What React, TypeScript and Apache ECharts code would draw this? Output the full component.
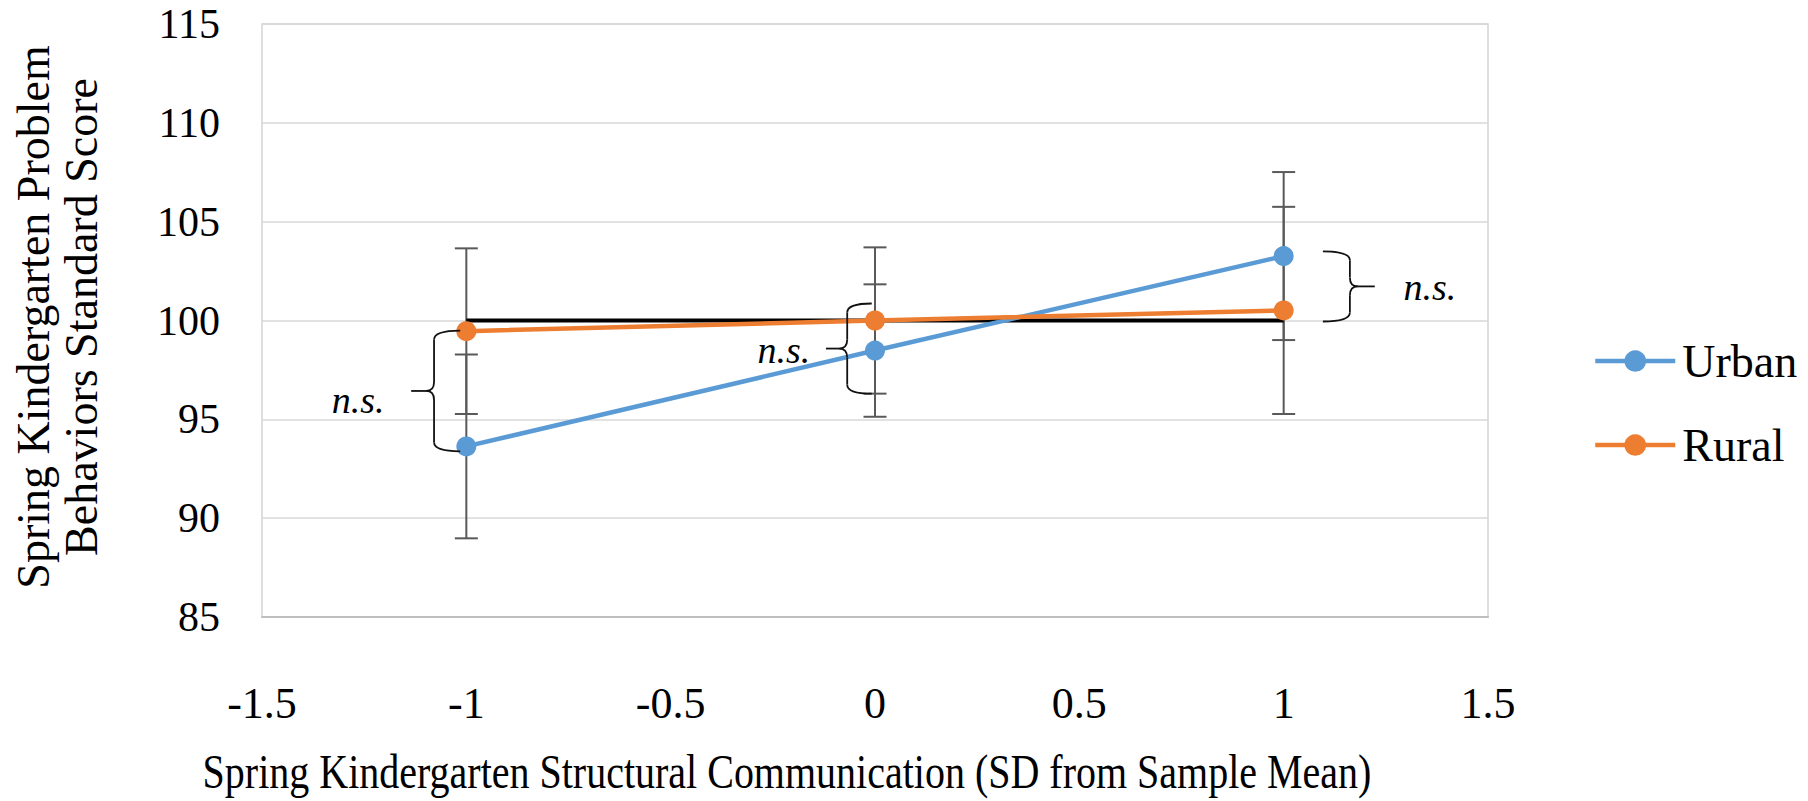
import React, { useEffect, useRef } from "react";
import * as echarts from "echarts";

// Data
const xValues = [-1, 0, 1];
const urbanMean = [93.63, 98.48, 103.26];
const urbanErr = [4.65, 3.35, 4.25];
const ruralMean = [99.46, 100.0, 100.51];
const ruralErr = [4.19, 3.7, 5.24];
const referenceX = [-1, 1];
const referenceY = [100, 100];

const xTicks = { min: -1.5, max: 1.5, interval: 0.5 };
const yTicks = { min: 85, max: 115, interval: 5 };

// Annotation braces ("n.s.") in data units
const braceSpineX = [-1.079, -0.068, 1.162];
const braceEndX = [-1.015, -0.008, 1.096];
const braceTipX = [-1.135, -0.12, 1.223];
const braceTop = [99.49, 100.86, 103.5];
const braceBottom = [93.38, 96.3, 99.95];
const nsLabelX = [-1.265, -0.223, 1.358];
const nsLabelY = [96.0, 98.53, 101.67];
const nsText = ["n.s.", "n.s.", "n.s."];

const xTitle = "Spring Kindergarten Structural Communication (SD from Sample Mean)";
const yTitle = "Spring Kindergarten Problem\nBehaviors Standard Score";

const SERIF = '"Liberation Serif", "Times New Roman", serif';
const BLUE = "#5B9BD5";
const ORANGE = "#ED7D31";

export default function App() {
  const ref = useRef<HTMLDivElement>(null);

  useEffect(() => {
    if (!ref.current) return;
    const chart = echarts.init(ref.current, undefined, { renderer: "svg" });

    const errData = (means: number[], errs: number[]) =>
      xValues.map((x, i) => [x, means[i] - errs[i], means[i] + errs[i]]);

    const errorRender = (params: any, api: any) => {
      const x = api.value(0);
      const lo = api.coord([x, api.value(1)]);
      const hi = api.coord([x, api.value(2)]);
      const hw = 11.5;
      const st = { stroke: "#595959", lineWidth: 2 };
      return {
        type: "group",
        children: [
          { type: "line", shape: { x1: lo[0], y1: lo[1], x2: hi[0], y2: hi[1] }, style: st },
          { type: "line", shape: { x1: lo[0] - hw, y1: lo[1], x2: lo[0] + hw, y2: lo[1] }, style: st },
          { type: "line", shape: { x1: hi[0] - hw, y1: hi[1], x2: hi[0] + hw, y2: hi[1] }, style: st },
        ],
      };
    };

    const braceData = braceSpineX.map((s, i) => [
      s,
      braceEndX[i],
      braceTipX[i],
      braceTop[i],
      braceBottom[i],
      nsLabelX[i],
      nsLabelY[i],
    ]);

    const braceRender = (params: any, api: any) => {
      const i = params.dataIndex;
      const top = api.coord([api.value(0), api.value(3)]);
      const bot = api.coord([api.value(0), api.value(4)]);
      const s = top[0];
      const e = api.coord([api.value(1), api.value(3)])[0];
      const p = api.coord([api.value(2), api.value(3)])[0];
      const t = top[1];
      const b = bot[1];
      const m = (t + b) / 2;
      const r = 9;
      const lab = api.coord([api.value(5), api.value(6)]);
      const st = { stroke: "#111", lineWidth: 1.8, fill: "none" };
      const dir = p < s ? -1 : 1;
      return {
        type: "group",
        children: [
          { type: "bezierCurve", shape: { x1: e, y1: t, cpx1: s, cpy1: t, x2: s, y2: t + r }, style: st },
          { type: "line", shape: { x1: s, y1: t + r, x2: s, y2: m - r }, style: st },
          { type: "bezierCurve", shape: { x1: s, y1: m - r, cpx1: s, cpy1: m, x2: s + dir * 8, y2: m }, style: st },
          { type: "line", shape: { x1: s + dir * 8, y1: m, x2: p, y2: m }, style: st },
          { type: "bezierCurve", shape: { x1: s + dir * 8, y1: m, cpx1: s, cpy1: m, x2: s, y2: m + r }, style: st },
          { type: "line", shape: { x1: s, y1: m + r, x2: s, y2: b - r }, style: st },
          { type: "bezierCurve", shape: { x1: s, y1: b - r, cpx1: s, cpy1: b, x2: e, y2: b }, style: st },
          {
            type: "text",
            x: lab[0],
            y: lab[1],
            style: {
              text: nsText[i],
              fontFamily: SERIF,
              fontStyle: "italic",
              fontSize: 38,
              fill: "#000",
              align: "center",
              verticalAlign: "middle",
            },
          },
        ],
      };
    };

    chart.setOption({
      animation: false,
      backgroundColor: "#fff",
      grid: {
        left: 262,
        top: 24,
        width: 1226,
        height: 593,
        show: true,
        borderColor: "#d4d4d4",
        borderWidth: 1.5,
        containLabel: false,
      },
      xAxis: {
        type: "value",
        min: xTicks.min,
        max: xTicks.max,
        interval: xTicks.interval,
        axisLine: { show: true, lineStyle: { color: "#bfbfbf", width: 2 } },
        axisTick: { show: false },
        splitLine: { show: false },
        axisLabel: { fontSize: 44, fontFamily: SERIF, color: "#000", margin: 64 },
      },
      yAxis: {
        type: "value",
        min: yTicks.min,
        max: yTicks.max,
        interval: yTicks.interval,
        axisLine: { show: false },
        axisTick: { show: false },
        splitLine: { show: true, lineStyle: { color: "#d9d9d9", width: 1.5 } },
        axisLabel: { fontSize: 42, fontFamily: SERIF, color: "#000", margin: 42 },
      },
      legend: {
        data: ["Urban", "Rural"],
        orient: "vertical",
        left: 1588,
        top: 333,
        itemWidth: 80,
        itemHeight: 27,
        itemGap: 38,
        lineStyle: { width: 4.5 },
        textStyle: { fontSize: 46, fontFamily: SERIF, color: "#000", padding: [0, 0, 0, 2] },
      },
      graphic: [
        {
          type: "text",
          x: 787,
          y: 772,
          scaleY: 1.2,
          style: {
            text: xTitle,
            fontSize: 40,
            fontFamily: SERIF,
            fill: "#000",
            align: "center",
            verticalAlign: "middle",
          },
        },
        {
          type: "text",
          x: 57,
          y: 317,
          rotation: Math.PI / 2,
          style: {
            text: yTitle,
            fontSize: 46,
            lineHeight: 48,
            fontFamily: SERIF,
            fill: "#000",
            align: "center",
            verticalAlign: "middle",
          },
        },
      ],
      series: [
        {
          name: "UrbanErr",
          type: "custom",
          z: 2,
          renderItem: errorRender,
          encode: { x: 0, y: [1, 2] },
          data: errData(urbanMean, urbanErr),
        },
        {
          name: "RuralErr",
          type: "custom",
          z: 2,
          renderItem: errorRender,
          encode: { x: 0, y: [1, 2] },
          data: errData(ruralMean, ruralErr),
        },
        {
          name: "Reference",
          type: "line",
          z: 3,
          symbol: "none",
          lineStyle: { color: "#000", width: 4 },
          data: referenceX.map((x, i) => [x, referenceY[i]]),
        },
        {
          name: "Urban",
          type: "line",
          z: 4,
          symbol: "circle",
          symbolSize: 20,
          lineStyle: { color: BLUE, width: 4.5 },
          itemStyle: { color: BLUE },
          data: xValues.map((x, i) => [x, urbanMean[i]]),
        },
        {
          name: "Rural",
          type: "line",
          z: 5,
          symbol: "circle",
          symbolSize: 20,
          lineStyle: { color: ORANGE, width: 4.5 },
          itemStyle: { color: ORANGE },
          data: xValues.map((x, i) => [x, ruralMean[i]]),
        },
        {
          name: "Braces",
          type: "custom",
          z: 6,
          renderItem: braceRender,
          encode: { x: 0, y: 3 },
          data: braceData,
        },
      ],
    });

    return () => chart.dispose();
  }, []);

  return (
    <div
      ref={ref}
      style={{ position: "fixed", left: 0, top: 0, width: 1808, height: 801, background: "#fff" }}
    />
  );
}
